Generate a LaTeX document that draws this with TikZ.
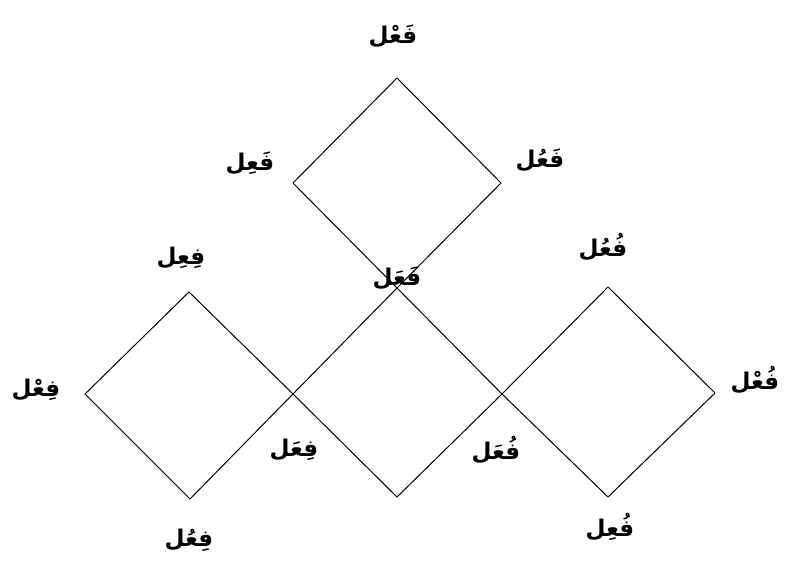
\documentclass[tikz,border=0pt]{standalone}
\usepackage{fontspec}
\newfontfamily\arabicfont[Script=Arabic]{DejaVu Sans}
\TeXXeTstate=1
\begin{document}
\begin{tikzpicture}[x=1pt,y=-1pt,
  edge/.style={draw=black,line width=1pt,line join=miter},
  lbl/.style={font=\arabicfont\bfseries\fontsize{23}{26}\selectfont,inner sep=0pt}]
\useasboundingbox (0,0) rectangle (788,580);
% vertices
\coordinate (tT) at (397,78);
\coordinate (tL) at (293,183);
\coordinate (tR) at (501,183);
\coordinate (tB) at (397,288);
\coordinate (lT) at (189,292);
\coordinate (lL) at (85,394);
\coordinate (lR) at (293,394);
\coordinate (lB) at (190,499);
\coordinate (mB) at (397,497);
\coordinate (mR) at (502,394);
\coordinate (rT) at (608,287);
\coordinate (rR) at (715,393);
\coordinate (rB) at (608,497);
% diamonds
\draw[edge] (tT) -- (tR) -- (tB) -- (tL) -- cycle;
\draw[edge] (lT) -- (lR) -- (lB) -- (lL) -- cycle;
\draw[edge] (tB) -- (mR) -- (mB) -- (lR) -- cycle;
\draw[edge] (rT) -- (rR) -- (rB) -- (mR) -- cycle;
% labels
\node[lbl] (a1) at (393,36) {\beginR فَعْل\endR};
\node[lbl] (a2) at (250,163) {\beginR فَعِل\endR};
\node[lbl] (a3) at (540,160) {\beginR فَعُل\endR};
\node[lbl] (a4) at (397,278) {\beginR فَعَل\endR};
\node[lbl] (b1) at (181,258) {\beginR فِعِل\endR};
\node[lbl] (b2) at (36,390) {\beginR فِعْل\endR};
\node[lbl] (b3) at (294,450) {\beginR فِعَل\endR};
\node[lbl] (b4) at (189,540) {\beginR فِعُل\endR};
\node[lbl] (c1) at (603,247) {\beginR فُعُل\endR};
\node[lbl] (c2) at (755,380) {\beginR فُعْل\endR};
\node[lbl] (c3) at (496,450) {\beginR فُعَل\endR};
\node[lbl] (c4) at (610,527) {\beginR فُعِل\endR};
\end{tikzpicture}
\end{document}
